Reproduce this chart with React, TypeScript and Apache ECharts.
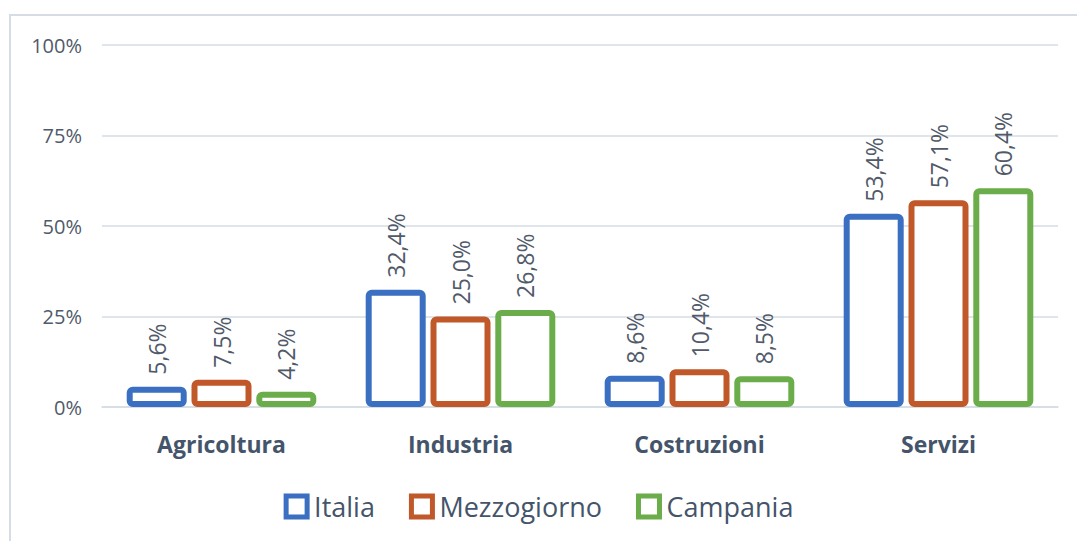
import React, { useEffect, useRef } from "react";
import * as echarts from "echarts";

const categories = ["Agricoltura", "Industria", "Costruzioni", "Servizi"];
const seriesNames = ["Italia", "Mezzogiorno", "Campania"];
const italia = [5.6, 32.4, 8.6, 53.4];
const mezzogiorno = [7.5, 25.0, 10.4, 57.1];
const campania = [4.2, 26.8, 8.5, 60.4];
const colors = ["#3A6FC1", "#C0582A", "#6CAD4B"];

const fmt = (v: number) => v.toFixed(1).replace(".", ",") + "%";

export default function App() {
  const ref = useRef<HTMLDivElement>(null);
  useEffect(() => {
    if (!ref.current) return;
    const chart = echarts.init(ref.current, null, { renderer: "svg" });
    const datasets = [italia, mezzogiorno, campania];
    const textColor = "#44546A";
    const font = "Open Sans";
    chart.setOption({
      animation: false,
      backgroundColor: "#ffffff",
      textStyle: { fontFamily: font },
      graphic: [
        {
          type: "rect",
          shape: { x: 10, y: 15, width: 1200, height: 700 },
          style: { fill: "none", stroke: "#D5DCE4", lineWidth: 2 },
          silent: true,
        },
      ],
      grid: { left: 102, right: 19, top: 45, bottom: 134, containLabel: false },
      legend: {
        top: 488,
        left: "center",
        itemWidth: 21,
        itemHeight: 21,
        itemGap: 34,
        icon: "rect",
        textStyle: { fontSize: 27, color: textColor, fontFamily: font, padding: [0, 0, 0, 2] },
        data: seriesNames.map((n, i) => ({
          name: n,
          itemStyle: { color: "#ffffff", borderColor: colors[i], borderWidth: 5 },
        })),
      },
      xAxis: {
        type: "category",
        data: categories,
        axisTick: { show: false },
        axisLine: { lineStyle: { color: "#D5DCE4", width: 1.5 } },
        axisLabel: { fontSize: 23, fontWeight: "bold", color: textColor, margin: 25, fontFamily: font },
      },
      yAxis: {
        type: "value",
        min: 0,
        max: 100,
        interval: 25,
        axisLine: { show: false },
        axisTick: { show: false },
        splitLine: { lineStyle: { color: "#D5DCE4", width: 1.5 } },
        axisLabel: { fontSize: 20, color: "#505A6A", margin: 20, formatter: "{value}%", fontFamily: font },
      },
      series: seriesNames.map((n, i) => ({
        name: n,
        type: "bar",
        data: datasets[i],
        barWidth: 60,
        barGap: "8%",
        itemStyle: {
          color: "#ffffff",
          borderColor: colors[i],
          borderWidth: 6,
          borderRadius: 3,
        },
        label: {
          show: true,
          position: "top",
          rotate: 90,
          align: "left",
          verticalAlign: "middle",
          distance: 12,
          fontSize: 23,
          color: "#505A6A",
          fontFamily: font,
          formatter: (p: any) => fmt(p.value),
        },
      })),
    });
    return () => chart.dispose();
  }, []);
  return (
    <div
      ref={ref}
      style={{ position: "fixed", left: 0, top: 0, width: 1077, height: 541 }}
    />
  );
}
